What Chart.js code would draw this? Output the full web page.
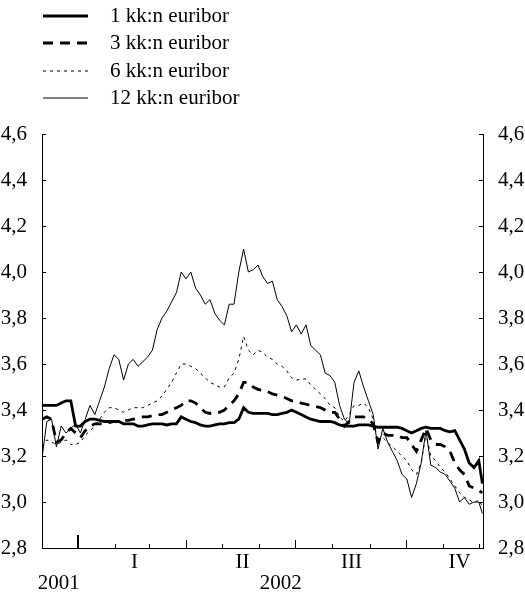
<!DOCTYPE html>
<html>
<head>
<meta charset="utf-8">
<script src="https://cdn.jsdelivr.net/npm/chart.js@4.4.1/dist/chart.umd.min.js"></script>
<style>
  html, body { margin: 0; padding: 0; background: #fff; }
  #wrap { width: 525px; height: 593px; }
</style>
</head>
<body>
<div id="wrap"><canvas id="chart"></canvas></div>
<script>
// x = days counted from 1 Dec 2001
const days = [1, 5, 9, 13, 17, 21, 25, 29, 33, 37, 41, 45, 49, 53, 57, 61, 65, 69, 73, 77,
  81, 85, 89, 93, 97, 101, 105, 109, 113, 117, 121, 125, 129, 133, 137, 141, 145, 149, 153, 157,
  161, 165, 169, 173, 177, 181, 185, 189, 193, 197, 201, 205, 209, 213, 217, 221, 225, 229, 233, 237,
  241, 245, 249, 253, 257, 261, 265, 269, 273, 277, 281, 285, 289, 293, 297, 301, 305, 309, 313, 317,
  321, 325, 329, 333, 337, 341, 345, 349, 353, 357, 361, 365, 368];

const euribor1 = [3.42, 3.42, 3.42, 3.42, 3.43, 3.44, 3.44, 3.33, 3.33, 3.35, 3.36, 3.36, 3.355, 3.35, 3.35, 3.35, 3.35, 3.34, 3.34, 3.34,
  3.33, 3.33, 3.335, 3.34, 3.34, 3.34, 3.335, 3.34, 3.34, 3.37, 3.36, 3.35, 3.345, 3.335, 3.33, 3.33, 3.335, 3.34, 3.34, 3.345,
  3.345, 3.36, 3.41, 3.39, 3.385, 3.385, 3.385, 3.385, 3.38, 3.38, 3.385, 3.39, 3.40, 3.39, 3.38, 3.37, 3.36, 3.355, 3.35, 3.35,
  3.35, 3.345, 3.335, 3.33, 3.33, 3.33, 3.335, 3.335, 3.335, 3.33, 3.325, 3.325, 3.325, 3.325, 3.325, 3.32, 3.31, 3.30, 3.31, 3.32,
  3.325, 3.32, 3.32, 3.32, 3.31, 3.305, 3.31, 3.27, 3.23, 3.17, 3.15, 3.18, 3.08];

const euribor3 = [3.36, 3.37, 3.36, 3.26, 3.27, 3.30, 3.32, 3.30, 3.28, 3.31, 3.33, 3.34, 3.34, 3.34, 3.345, 3.35, 3.35, 3.355, 3.355, 3.36,
  3.365, 3.37, 3.37, 3.375, 3.38, 3.38, 3.39, 3.40, 3.41, 3.42, 3.44, 3.44, 3.43, 3.41, 3.39, 3.385, 3.39, 3.39, 3.40, 3.42,
  3.44, 3.47, 3.52, 3.52, 3.50, 3.49, 3.485, 3.48, 3.47, 3.465, 3.46, 3.45, 3.44, 3.44, 3.43, 3.425, 3.42, 3.415, 3.41, 3.40,
  3.39, 3.39, 3.36, 3.33, 3.35, 3.37, 3.37, 3.37, 3.36, 3.34, 3.26, 3.30, 3.29, 3.29, 3.29, 3.28, 3.28, 3.25, 3.22, 3.27,
  3.32, 3.27, 3.25, 3.25, 3.24, 3.22, 3.17, 3.14, 3.12, 3.07, 3.06, 3.05, 3.04];

const euribor6 = [3.24, 3.27, 3.26, 3.25, 3.26, 3.27, 3.25, 3.25, 3.26, 3.29, 3.31, 3.33, 3.36, 3.39, 3.41, 3.41, 3.40, 3.39, 3.40, 3.41,
  3.41, 3.41, 3.42, 3.43, 3.44, 3.46, 3.49, 3.52, 3.56, 3.60, 3.60, 3.59, 3.58, 3.56, 3.54, 3.52, 3.51, 3.50, 3.50, 3.54,
  3.56, 3.62, 3.72, 3.66, 3.64, 3.66, 3.65, 3.63, 3.62, 3.60, 3.59, 3.57, 3.54, 3.53, 3.535, 3.535, 3.51, 3.49, 3.47, 3.45,
  3.42, 3.41, 3.37, 3.35, 3.38, 3.42, 3.42, 3.43, 3.41, 3.36, 3.26, 3.28, 3.26, 3.24, 3.22, 3.20, 3.18, 3.14, 3.12, 3.17,
  3.30, 3.20, 3.18, 3.15, 3.13, 3.10, 3.07, 3.04, 3.02, 3.01, 2.995, 3.01, 2.98];

const euribor12 = [3.19, 3.35, 3.36, 3.24, 3.33, 3.30, 3.32, 3.34, 3.30, 3.36, 3.42, 3.38, 3.44, 3.50, 3.58, 3.64, 3.62, 3.53, 3.60, 3.62,
  3.59, 3.61, 3.63, 3.66, 3.75, 3.80, 3.83, 3.87, 3.91, 4.00, 3.97, 4.00, 3.93, 3.90, 3.86, 3.88, 3.82, 3.79, 3.77, 3.86,
  3.86, 4.00, 4.10, 4.00, 4.01, 4.03, 3.98, 3.95, 3.96, 3.88, 3.85, 3.81, 3.74, 3.77, 3.73, 3.77, 3.68, 3.66, 3.64, 3.56,
  3.55, 3.52, 3.42, 3.36, 3.34, 3.52, 3.57, 3.50, 3.44, 3.38, 3.23, 3.32, 3.26, 3.22, 3.18, 3.12, 3.10, 3.02, 3.08, 3.17,
  3.31, 3.16, 3.15, 3.13, 3.12, 3.09, 3.06, 3.00, 3.02, 2.99, 3.00, 3.00, 2.95];

const seriesNames = ['1 kk:n euribor', '3 kk:n euribor', '6 kk:n euribor', '12 kk:n euribor'];

// month starts (days from 1 Dec 2001), quarter and year marks
const monthStarts = [31, 62, 90, 121, 151, 182, 212, 243, 274, 304, 335, 365];
const quarterStarts = [121, 212, 304];
const yearStarts = [31];
const quarterLabels = ['I', 'II', 'III', 'IV'];
const quarterCenters = [78, 168, 259, 349];
const yearLabels = ['2001', '2002'];
const yearCenters = [15, 200];

const FONT = '"Liberation Serif", "Times New Roman", serif';

function pts(vals) {
  return vals.map((v, i) => ({ x: days[i], y: v }));
}

function fmt(v) {
  return v.toFixed(1).replace('.', ',');
}

const framePlugin = {
  id: 'framePlugin',
  afterDraw(chart) {
    const ctx = chart.ctx;
    const a = chart.chartArea;
    const xs = chart.scales.x;
    const ys = chart.scales.y;
    ctx.save();
    ctx.strokeStyle = '#000';
    ctx.lineWidth = 1;
    ctx.beginPath();
    ys.ticks.forEach(t => {
      const py = Math.round(ys.getPixelForValue(t.value)) + 0.5;
      ctx.moveTo(a.left, py);
      ctx.lineTo(a.left + 4, py);
      ctx.moveTo(a.right, py);
      ctx.lineTo(a.right - 4, py);
    });
    monthStarts.forEach(d => {
      if (yearStarts.includes(d)) return;
      const px = Math.round(xs.getPixelForValue(d)) + 0.5;
      const len = quarterStarts.includes(d) ? 8 : 4;
      ctx.moveTo(px, a.bottom);
      ctx.lineTo(px, a.bottom - len);
    });
    ctx.stroke();

    ctx.lineWidth = 2;
    ctx.beginPath();
    yearStarts.forEach(d => {
      const px = Math.round(xs.getPixelForValue(d));
      ctx.moveTo(px, a.bottom);
      ctx.lineTo(px, a.bottom - 13);
    });
    ctx.stroke();

    // quarter and year labels
    ctx.fillStyle = '#000';
    ctx.font = '21px ' + FONT;
    ctx.textAlign = 'center';
    ctx.textBaseline = 'middle';
    quarterLabels.forEach((q, i) => {
      ctx.fillText(q, xs.getPixelForValue(quarterCenters[i]), a.bottom + 14);
    });
    yearLabels.forEach((y, i) => {
      ctx.fillText(y, xs.getPixelForValue(yearCenters[i]), a.bottom + 35);
    });

    // legend
    const rowY = [16, 43, 71, 98];
    ctx.textAlign = 'left';
    chart.data.datasets.forEach((ds, i) => {
      const y = rowY[i];
      ctx.save();
      ctx.lineWidth = ds.borderWidth;
      ctx.setLineDash(ds.borderDash || []);
      ctx.beginPath();
      ctx.moveTo(43, y);
      ctx.lineTo(88, y);
      ctx.stroke();
      ctx.restore();
      ctx.fillText(ds.label, 110, y);
    });
    ctx.restore();
  }
};

const tickFont = { family: FONT, size: 21 };

new Chart(document.getElementById('chart'), {
  type: 'line',
  data: {
    datasets: [
      { label: seriesNames[0], data: pts(euribor1), borderWidth: 2.8 },
      { label: seriesNames[1], data: pts(euribor3), borderWidth: 2.8, borderDash: [10, 7] },
      { label: seriesNames[2], data: pts(euribor6), borderWidth: 1, borderDash: [3, 4] },
      { label: seriesNames[3], data: pts(euribor12), borderWidth: 1 }
    ].map(ds => Object.assign(ds, {
      borderColor: '#000',
      backgroundColor: '#000',
      pointRadius: 0,
      tension: 0,
      fill: false
    }))
  },
  options: {
    responsive: true,
    maintainAspectRatio: false,
    animation: false,
    layout: { padding: { top: 134, left: 0, right: 0, bottom: 0 } },
    plugins: { legend: { display: false }, tooltip: { enabled: false } },
    scales: {
      x: {
        type: 'linear',
        min: 1,
        max: 368.5,
        grid: { display: false },
        ticks: { display: false },
        border: { display: true, color: '#000', width: 1 },
        afterFit: s => { s.height = 45; }
      },
      y: {
        position: 'left',
        min: 2.8,
        max: 4.6,
        grid: { display: false },
        border: { display: true, color: '#000', width: 1 },
        ticks: { stepSize: 0.2, padding: 7, color: '#000', font: tickFont, callback: v => fmt(v) },
        afterFit: s => { s.width = 42; }
      },
      y2: {
        position: 'right',
        min: 2.8,
        max: 4.6,
        grid: { display: false },
        border: { display: true, color: '#000', width: 1 },
        ticks: { stepSize: 0.2, padding: 7, color: '#000', font: tickFont, callback: v => fmt(v) },
        afterFit: s => { s.width = 42; }
      }
    }
  },
  plugins: [framePlugin]
});
</script>
</body>
</html>
